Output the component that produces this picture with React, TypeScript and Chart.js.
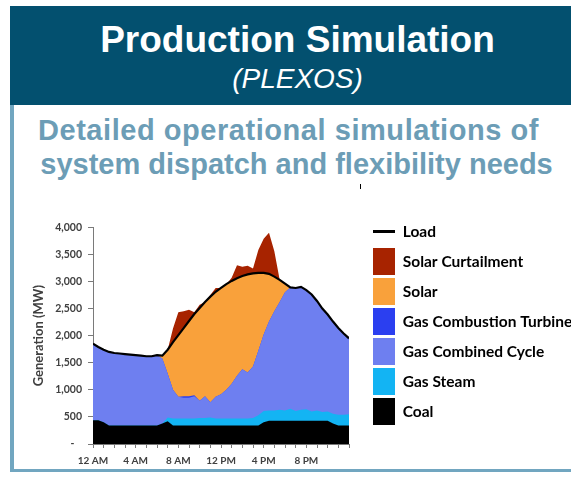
import React, { useEffect, useRef } from 'react';
import { Chart, registerables } from 'chart.js';

Chart.register(...registerables);

// ---- data (half-hourly, hours after midnight) ----
const HOURS = [0, 0.5, 1, 1.5, 2, 2.5, 3, 3.5, 4, 4.5, 5, 5.5, 6, 6.5, 7, 7.5, 8, 8.5, 9, 9.5, 10, 10.5, 11, 11.5, 12, 12.5, 13, 13.5, 14, 14.5, 15, 15.5, 16, 16.5, 17, 17.5, 18, 18.5, 19, 19.5, 20, 20.5, 21, 21.5, 22, 22.5, 23, 23.5, 24];

const LOAD = [1850, 1790, 1740, 1700, 1680, 1670, 1660, 1650, 1640, 1630, 1620, 1620, 1640, 1630, 1740, 1880, 2010, 2140, 2270, 2400, 2510, 2620, 2720, 2810, 2880, 2950, 3010, 3060, 3100, 3130, 3150, 3160, 3160, 3140, 3090, 3030, 2960, 2890, 2880, 2900, 2840, 2760, 2640, 2500, 2390, 2260, 2140, 2040, 1950];

const COAL = [440, 440, 400, 340, 340, 340, 340, 340, 340, 340, 340, 340, 340, 380, 420, 340, 340, 340, 340, 340, 340, 340, 340, 340, 340, 340, 340, 340, 340, 340, 340, 340, 400, 430, 430, 430, 430, 430, 430, 430, 430, 430, 430, 430, 430, 380, 340, 340, 340];

const GAS_STEAM = [0, 0, 0, 0, 0, 0, 0, 0, 0, 0, 0, 0, 0, 0, 70, 130, 130, 130, 130, 130, 140, 140, 150, 130, 130, 130, 130, 130, 130, 130, 140, 190, 210, 190, 190, 200, 190, 220, 180, 200, 210, 170, 190, 160, 170, 180, 200, 200, 210];

const GAS_CC = [1410, 1350, 1340, 1360, 1340, 1330, 1320, 1310, 1300, 1290, 1280, 1280, 1300, 1200, 810, 530, 400, 385, 385, 410, 320, 400, 280, 400, 450, 530, 640, 790, 910, 850, 950, 1190, 1410, 1640, 1830, 1990, 2180, 2240, 2270, 2270, 2200, 2160, 2020, 1910, 1790, 1700, 1600, 1500, 1400];

const GAS_CT = [0, 0, 0, 0, 0, 0, 0, 0, 0, 0, 0, 0, 0, 0, 0, 0, 0, 25, 25, 20, 0, 0, 0, 0, 0, 0, 0, 0, 0, 0, 0, 0, 0, 0, 0, 0, 0, 0, 0, 0, 0, 0, 0, 0, 0, 0, 0, 0, 0];

const SOLAR = [0, 0, 0, 0, 0, 0, 0, 0, 0, 0, 0, 0, 0, 50, 440, 880, 1140, 1260, 1390, 1500, 1710, 1740, 1950, 1940, 1960, 1950, 1900, 1800, 1720, 1810, 1720, 1440, 1140, 880, 640, 410, 160, 0, 0, 0, 0, 0, 0, 0, 0, 0, 0, 0, 0];

const CURTAILMENT = [0, 0, 0, 0, 0, 0, 0, 0, 0, 0, 0, 0, 0, 0, 0, 250, 420, 310, 210, 30, 60, 0, 30, 70, 0, 0, 60, 240, 170, 160, 90, 420, 630, 760, 470, 0, 0, 0, 0, 0, 0, 0, 0, 0, 0, 0, 0, 0, 0];

const X_TICK_HOURS = [0, 4, 8, 12, 16, 20];
const X_TICK_LABELS = ['12 AM', '4 AM', '8 AM', '12 PM', '4 PM', '8 PM'];
const Y_MAX = 4000;
const Y_STEP = 500;

const STACK_NAMES = ['Coal', 'Gas Steam', 'Gas Combined Cycle', 'Gas Combustion Turbine', 'Solar', 'Solar Curtailment'];
const STACK_VALUES = [COAL, GAS_STEAM, GAS_CC, GAS_CT, SOLAR, CURTAILMENT];
const STACK_COLORS = ['#000000', '#13b4f3', '#6e7ff0', '#2b3ff0', '#f9a13b', '#a72300'];
const LOAD_NAME = 'Load';

const FONT = 'Lato, "DejaVu Sans", sans-serif';
const LEGEND_FONT_SIZE = 15.5;
const LEGEND_BOX_W = 22;
const LEGEND_BOX_H = 27;
const LEGEND_PAD = 3;

const loadLegendLine = {
  id: 'loadLegendLine',
  afterDraw(chart: any) {
    const lg = chart.legend;
    if (!lg || !lg.legendHitBoxes || !lg.legendHitBoxes.length) return;
    const hb = lg.legendHitBoxes[0];
    const ctx = chart.ctx;
    ctx.save();
    ctx.fillStyle = '#000000';
    ctx.fillRect(hb.left, hb.top + LEGEND_BOX_H / 2 - 1.5, LEGEND_BOX_W, 3);
    ctx.restore();
  },
};

function ProductionChart() {
  const ref = useRef<HTMLCanvasElement | null>(null);

  useEffect(() => {
    const canvas = ref.current;
    if (!canvas) return;

    // legend width: measure the longest label
    const mctx = document.createElement('canvas').getContext('2d') as CanvasRenderingContext2D;
    mctx.font = `bold ${LEGEND_FONT_SIZE}px ${FONT}`;
    const allNames = [LOAD_NAME, ...STACK_NAMES];
    const tw = Math.max(...allNames.map((n) => mctx.measureText(n).width));
    const legendMax = 201;
    const natural = LEGEND_PAD + LEGEND_BOX_W + LEGEND_FONT_SIZE / 2 + tw + 10;
    const W = 370 + Math.min(legendMax, natural);
    const H = 253;
    canvas.width = W;
    canvas.height = H;
    canvas.style.width = W + 'px';
    canvas.style.height = H + 'px';

    const datasets: any[] = STACK_VALUES.map((vals, i) => ({
      label: STACK_NAMES[i],
      data: vals,
      backgroundColor: STACK_COLORS[i],
      borderColor: STACK_COLORS[i],
      borderWidth: 0,
      pointRadius: 0,
      pointHoverRadius: 0,
      tension: 0,
      fill: 'origin',
      stack: 'gen',
      order: 0,
    }));
    datasets.push({
      label: LOAD_NAME,
      data: LOAD,
      borderColor: '#000000',
      backgroundColor: '#000000',
      borderWidth: 2.2,
      pointRadius: 0,
      pointHoverRadius: 0,
      tension: 0,
      fill: false,
      stack: 'load',
      order: -1,
    });

    const tickColor = '#404040';
    const axisColor = '#7a7a7a';

    const chart = new Chart(canvas, {
      type: 'line',
      data: { labels: HOURS, datasets },
      options: {
        animation: false,
        responsive: false,
        maintainAspectRatio: false,
        devicePixelRatio: 1,
        layout: { padding: 0 },
        events: [],
        scales: {
          x: {
            type: 'linear',
            min: 0,
            max: 24,
            border: { display: true, color: axisColor, width: 1 },
            grid: { display: true, drawOnChartArea: false, drawTicks: true, tickLength: 4, color: axisColor },
            ticks: {
              stepSize: 1,
              autoSkip: false,
              maxRotation: 0,
              minRotation: 0,
              padding: 7,
              color: tickColor,
              font: { family: FONT, weight: 'bold', size: 10 },
              callback: (v: any) => {
                const i = X_TICK_HOURS.indexOf(Number(v));
                return i >= 0 ? X_TICK_LABELS[i] : '';
              },
            },
            afterFit: (s: any) => { s.height = 24; },
          },
          xTop: {
            type: 'linear',
            position: 'top',
            display: true,
            grid: { display: false },
            border: { display: false },
            ticks: { display: false },
            afterFit: (s: any) => { s.height = 8; },
          },
          y: {
            type: 'linear',
            stacked: true,
            min: 0,
            max: Y_MAX,
            border: { display: true, color: axisColor, width: 1 },
            grid: { display: true, drawOnChartArea: false, drawTicks: true, tickLength: 5, color: axisColor },
            ticks: {
              stepSize: Y_STEP,
              padding: 6,
              color: tickColor,
              font: { family: FONT, weight: 'bold', size: 10.5 },
              callback: (v: any) => (Number(v) === 0 ? '-   ' : Number(v).toLocaleString('en-US')),
            },
            title: {
              display: true,
              text: 'Generation (MW)',
              color: tickColor,
              font: { family: FONT, weight: 'bold', size: 13 },
              padding: { top: 31, bottom: 0 },
            },
            afterFit: (s: any) => { s.width = 93; },
          },
          yRight: {
            type: 'linear',
            position: 'right',
            display: true,
            grid: { display: false },
            border: { display: false },
            ticks: { display: false },
            afterFit: (s: any) => { s.width = 21; },
          },
        },
        plugins: {
          tooltip: { enabled: false },
          title: { display: false },
          legend: {
            display: true,
            position: 'right',
            align: 'start',
            maxWidth: legendMax,
            labels: {
              boxWidth: LEGEND_BOX_W,
              boxHeight: LEGEND_BOX_H,
              padding: LEGEND_PAD,
              color: '#1f1f1f',
              font: { family: FONT, weight: 'bold', size: LEGEND_FONT_SIZE },
              generateLabels: (ch: any) => {
                const ds = ch.data.datasets;
                const order = [6, 5, 4, 3, 2, 1, 0];
                return order.map((i) => ({
                  text: ds[i].label,
                  fillStyle: i === 6 ? 'rgba(0,0,0,0)' : ds[i].backgroundColor,
                  strokeStyle: 'rgba(0,0,0,0)',
                  lineWidth: 0,
                  hidden: false,
                  datasetIndex: i,
                }));
              },
            },
          },
        },
      } as any,
      plugins: [loadLegendLine],
    });

    return () => chart.destroy();
  }, []);

  return <canvas ref={ref} style={{ position: 'absolute', left: 0, top: 215, display: 'block' }} />;
}

export default function App() {
  const sans = '"Liberation Sans", Arial, Helvetica, sans-serif';
  return (
    <div style={{ position: 'absolute', left: 0, top: 0, width: 571, height: 485, overflow: 'hidden', background: '#ffffff' }}>
      {/* header band */}
      <div style={{ position: 'absolute', left: 10, top: 6, width: 580, height: 99, background: '#03506f' }} />
      <div style={{ position: 'absolute', left: 0, top: 21, width: 595, textAlign: 'center', color: '#ffffff', fontFamily: sans, fontWeight: 'bold', fontSize: 37, lineHeight: '37px', whiteSpace: 'nowrap' }}>
        Production Simulation
      </div>
      <div style={{ position: 'absolute', left: 0, top: 65, width: 595, textAlign: 'center', color: '#ffffff', fontFamily: sans, fontStyle: 'italic', fontSize: 28, lineHeight: '28px', whiteSpace: 'nowrap' }}>
        (PLEXOS)
      </div>
      {/* panel borders */}
      <div style={{ position: 'absolute', left: 10, top: 105, width: 4, height: 367, background: '#71a6c0' }} />
      <div style={{ position: 'absolute', left: 10, top: 469, width: 580, height: 3, background: '#71a6c0' }} />
      {/* subtitle */}
      <div style={{ position: 'absolute', left: 0, top: 116, width: 577, textAlign: 'center', color: '#6c9db6', fontFamily: sans, fontWeight: 'bold', fontSize: 29, lineHeight: '29px', letterSpacing: '0.55px', whiteSpace: 'nowrap' }}>
        Detailed operational simulations of
      </div>
      <div style={{ position: 'absolute', left: 0, top: 150, width: 593, textAlign: 'center', color: '#6c9db6', fontFamily: sans, fontWeight: 'bold', fontSize: 29, lineHeight: '29px', whiteSpace: 'nowrap' }}>
        system dispatch and flexibility needs
      </div>
      {/* small stray mark below the subtitle */}
      <div style={{ position: 'absolute', left: 360, top: 184, width: 1, height: 5, background: '#000000' }} />
      <ProductionChart />
    </div>
  );
}
